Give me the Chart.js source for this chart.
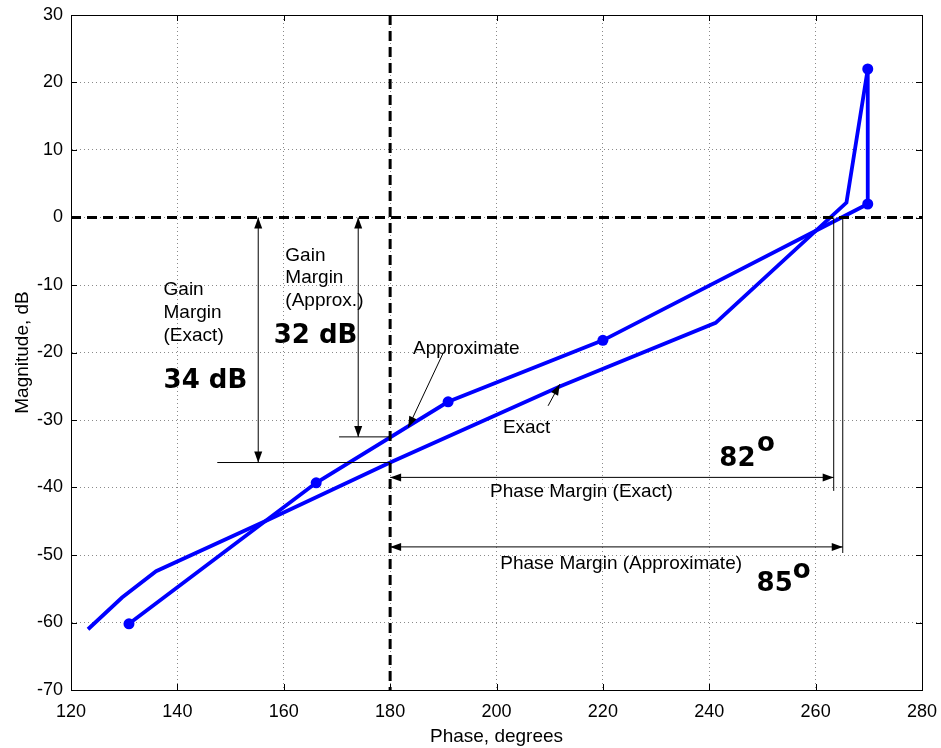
<!DOCTYPE html>
<html>
<head>
<meta charset="utf-8">
<script src="https://cdn.jsdelivr.net/npm/chart.js@4"></script>
<style>
  html, body { margin: 0; padding: 0; background: #fff; }
  canvas { display: block; }
</style>
</head>
<body>
<canvas id="nichols" width="941" height="748"></canvas>
<script>
// Exact curve (phase in degrees, magnitude in dB)
const exactPhase = [123.2, 129.6, 136.0, 157.0, 180.0, 212.0, 241.2, 265.8, 269.8];
const exactMag   = [-61.0, -56.3, -52.4, -44.8, -36.3, -25.0, -15.6, 2.2, 22.0];

// Approximate (asymptotic) curve, drawn with markers
const approxPhase = [130.9, 166.1, 190.9, 220.0, 269.8, 269.8];
const approxMag   = [-60.2, -39.3, -27.3, -18.2, 2.0, 22.0];

// Axis ticks
const phaseTicks = [120, 140, 160, 180, 200, 220, 240, 260, 280];
const magTicks = [-70, -60, -50, -40, -30, -20, -10, 0, 10, 20, 30];

// Margins
const gainMarginExact = -36.3;   // magnitude of exact curve at -180
const gainMarginApprox = -32.5;  // magnitude of approx curve at -180
const crossExact = 263.4;        // phase where exact curve hits 0 dB
const crossApprox = 265.1;       // phase where approx curve hits 0 dB
const refPhase = 180;
const refMag = 0;

const toPts = (xs, ys) => xs.map((x, i) => ({ x: x, y: ys[i] }));

const SANS = '"Liberation Sans", Arial, sans-serif';
const BOLD = '"DejaVu Sans", Verdana, sans-serif';

function arrowHead(ctx, x1, y1, x2, y2) {
    const len = 11, half = 4;
    const a = Math.atan2(y2 - y1, x2 - x1);
    ctx.beginPath();
    ctx.moveTo(x2, y2);
    ctx.lineTo(x2 - len * Math.cos(a) + half * Math.sin(a), y2 - len * Math.sin(a) - half * Math.cos(a));
    ctx.lineTo(x2 - len * Math.cos(a) - half * Math.sin(a), y2 - len * Math.sin(a) + half * Math.cos(a));
    ctx.closePath();
    ctx.fill();
}

function line(ctx, x1, y1, x2, y2) {
    ctx.beginPath();
    ctx.moveTo(x1, y1);
    ctx.lineTo(x2, y2);
    ctx.stroke();
}

const annotations = {
    id: 'annotations',
    afterDatasetsDraw(chart) {
        const ctx = chart.ctx;
        const xs = chart.scales.x, ys = chart.scales.y;
        const px = v => xs.getPixelForValue(v);
        const py = v => ys.getPixelForValue(v);
        const area = chart.chartArea;

        ctx.save();

        // reference dashed lines (0 dB and -180 deg)
        ctx.strokeStyle = '#000';
        ctx.lineWidth = 3;
        ctx.setLineDash([10, 6]);
        line(ctx, area.left, py(refMag), area.right, py(refMag));
        line(ctx, px(refPhase), area.top, px(refPhase), area.bottom);
        ctx.setLineDash([]);

        ctx.lineWidth = 1;
        ctx.fillStyle = '#000';

        // gain margin (exact)
        line(ctx, px(147.5), py(gainMarginExact), px(refPhase), py(gainMarginExact));
        line(ctx, px(155.2), py(refMag), px(155.2), py(gainMarginExact));
        arrowHead(ctx, px(155.2), py(-10), px(155.2), py(refMag));
        arrowHead(ctx, px(155.2), py(-20), px(155.2), py(gainMarginExact));

        // gain margin (approx)
        line(ctx, px(170.4), py(gainMarginApprox), px(refPhase), py(gainMarginApprox));
        line(ctx, px(174.0), py(refMag), px(174.0), py(gainMarginApprox));
        arrowHead(ctx, px(174.0), py(-10), px(174.0), py(refMag));
        arrowHead(ctx, px(174.0), py(-20), px(174.0), py(gainMarginApprox));

        // phase margin (exact)
        line(ctx, px(crossExact), py(refMag), px(crossExact), py(-40.5));
        line(ctx, px(refPhase), py(-38.5), px(crossExact), py(-38.5));
        arrowHead(ctx, px(220), py(-38.5), px(refPhase), py(-38.5));
        arrowHead(ctx, px(220), py(-38.5), px(crossExact), py(-38.5));

        // phase margin (approx)
        line(ctx, px(crossApprox), py(refMag), px(crossApprox), py(-49.7));
        line(ctx, px(refPhase), py(-48.8), px(crossApprox), py(-48.8));
        arrowHead(ctx, px(220), py(-48.8), px(refPhase), py(-48.8));
        arrowHead(ctx, px(220), py(-48.8), px(crossApprox), py(-48.8));

        // pointer arrows
        line(ctx, px(189.9), py(-20.2), px(183.4), py(-31.1));
        arrowHead(ctx, px(189.9), py(-20.2), px(183.4), py(-31.1));
        line(ctx, px(209.7), py(-27.9), px(211.9), py(-24.7));
        arrowHead(ctx, px(209.7), py(-27.9), px(211.9), py(-24.7));

        // text
        ctx.textAlign = 'left';
        ctx.textBaseline = 'middle';
        ctx.font = '19px ' + SANS;
        const texts = [
            ['Gain', 137.4, -10.7], ['Margin', 137.4, -14.1], ['(Exact)', 137.4, -17.5],
            ['Gain', 160.3, -5.6], ['Margin', 160.3, -9.0], ['(Approx.)', 160.3, -12.4],
            ['Approximate', 184.3, -19.4],
            ['Exact', 201.2, -31.1],
            ['Phase Margin (Exact)', 198.8, -40.7],
            ['Phase Margin (Approximate)', 200.7, -51.3]
        ];
        texts.forEach(t => ctx.fillText(t[0], px(t[1]), py(t[2])));

        ctx.font = 'bold 26px ' + BOLD;
        const big = [
            ['34 dB', 137.4, -24.3], ['32 dB', 158.1, -17.6],
            ['82', 241.9, -35.8], ['o', 249.0, -33.6],
            ['85', 248.9, -54.4], ['o', 255.7, -52.4]
        ];
        big.forEach(t => ctx.fillText(t[0], px(t[1]), py(t[2])));

        // inner ticks
        ctx.lineWidth = 1;
        phaseTicks.forEach(v => {
            const x = Math.round(px(v)) + 0.5;
            line(ctx, x, area.bottom, x, area.bottom - 6);
            line(ctx, x, area.top, x, area.top + 6);
        });
        magTicks.forEach(v => {
            const y = Math.round(py(v)) + 0.5;
            line(ctx, area.left, y, area.left + 6, y);
            line(ctx, area.right, y, area.right - 6, y);
        });

        // box
        ctx.strokeRect(Math.round(area.left) + 0.5, Math.round(area.top) + 0.5,
            Math.round(area.right - area.left), Math.round(area.bottom - area.top));

        ctx.restore();
    }
};

const ctx = document.getElementById('nichols').getContext('2d');
const chart = new Chart(ctx, {
    type: 'scatter',
    data: {
        datasets: [{
            label: 'Exact',
            data: toPts(exactPhase, exactMag),
            showLine: true,
            borderColor: '#0000ff',
            borderWidth: 3.8,
            pointRadius: 0,
            fill: false
        },
        {
            label: 'Approximate',
            data: toPts(approxPhase, approxMag),
            showLine: true,
            borderColor: '#0000ff',
            backgroundColor: '#0000ff',
            borderWidth: 3.8,
            pointRadius: 5.5,
            pointBorderWidth: 0,
            fill: false
        }]
    },
    options: {
        responsive: false,
        animation: false,
        devicePixelRatio: 1,
        layout: { padding: { top: 15, right: 19, left: 0, bottom: 0 } },
        plugins: {
            legend: { display: false },
            tooltip: { enabled: false }
        },
        scales: {
            x: {
                type: 'linear',
                min: 120,
                max: 280,
                afterBuildTicks: s => { s.ticks = phaseTicks.map(v => ({ value: v })); },
                afterFit: s => { s.height = 58; s.paddingLeft = 0; s.paddingRight = 0; },
                ticks: { color: '#000', padding: 11, maxRotation: 0, font: { family: SANS, size: 18 } },
                grid: { color: '#8a8a8a', lineWidth: 1, drawTicks: false },
                border: { display: true, color: '#000', width: 1, dash: [1, 3] },
                title: {
                    display: true,
                    text: 'Phase, degrees',
                    color: '#000',
                    font: { family: SANS, size: 19 },
                    padding: { top: 0, bottom: 0 }
                }
            },
            y: {
                type: 'linear',
                min: -70,
                max: 30,
                afterBuildTicks: s => { s.ticks = magTicks.map(v => ({ value: v })); },
                afterFit: s => { s.width = 71; s.paddingTop = 0; s.paddingBottom = 0; },
                ticks: { color: '#000', padding: 8, font: { family: SANS, size: 18 } },
                grid: { color: '#8a8a8a', lineWidth: 1, drawTicks: false },
                border: { display: true, color: '#000', width: 1, dash: [1, 3] },
                title: {
                    display: true,
                    text: 'Magnitude, dB',
                    color: '#000',
                    font: { family: SANS, size: 19 },
                    padding: { top: 11, bottom: 0 }
                }
            }
        }
    },
    plugins: [annotations]
});
</script>
</body>
</html>
